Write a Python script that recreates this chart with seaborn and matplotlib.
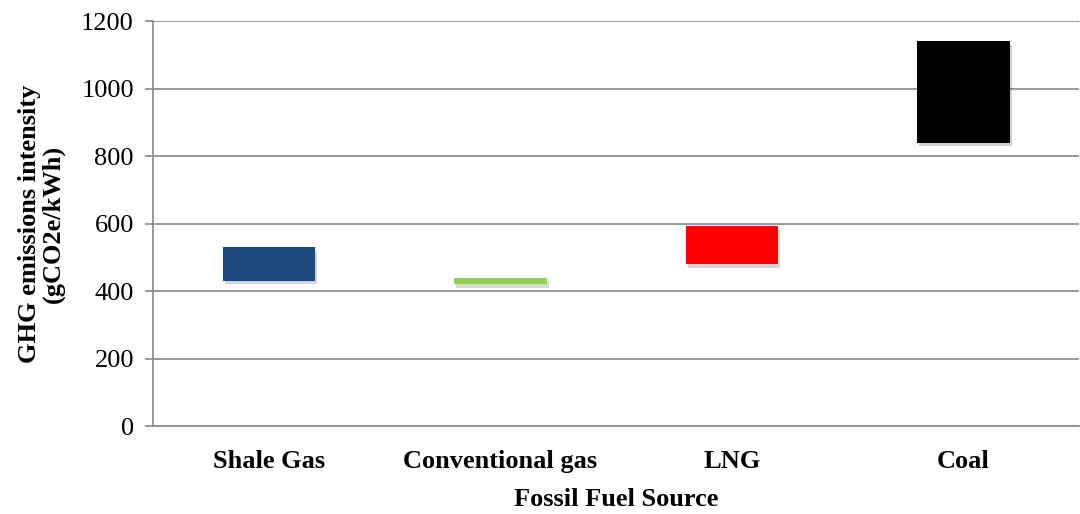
import matplotlib
matplotlib.use("Agg")
import matplotlib.pyplot as plt
import matplotlib.patheffects as pe
import pandas as pd
import seaborn as sns

# Range of GHG intensity per source (gCO2e/kWh)
sources = ["Shale Gas", "Conventional gas", "LNG", "Coal"]
low_vals = [430, 420, 480, 840]
high_vals = [530, 440, 592, 1140]
colors = ["#1F497D", "#92D050", "#FF0000", "#000000"]

df = pd.DataFrame({"Source": sources, "Low": low_vals, "High": high_vals})
df["Span"] = df["High"] - df["Low"]

sns.set_style("white")
plt.rcParams["font.family"] = ["Liberation Serif", "DejaVu Serif"]
plt.rcParams["text.color"] = "black"
plt.rcParams["axes.labelcolor"] = "black"
plt.rcParams["xtick.labelcolor"] = "black"
plt.rcParams["ytick.labelcolor"] = "black"

fig = plt.figure(figsize=(10.8, 5.14), dpi=100)
ax = fig.add_axes([0.142, 0.171, 0.857, 0.788])

sns.barplot(data=df, x="Source", y="Span", hue="Source", palette=colors,
            width=0.4, legend=False, ax=ax, saturation=1, zorder=3)

# float each bar from its low value
for patch, low in zip(ax.patches, df["Low"]):
    patch.set_y(low)
    patch.set_linewidth(0)
    patch.set_path_effects([pe.SimplePatchShadow(offset=(1.5, -2.5), alpha=0.18), pe.Normal()])

ax.set_ylim(0, 1200)
ax.set_xlim(-0.5, 3.5)
ax.set_yticks(range(0, 1201, 200))
ax.yaxis.grid(True, color="#888888", linewidth=1.2, zorder=0)
ax.set_axisbelow(True)

for side in ["top", "right"]:
    ax.spines[side].set_visible(False)
for side in ["left", "bottom"]:
    ax.spines[side].set_color("#888888")
    ax.spines[side].set_linewidth(1.2)

ax.set_xticks([-0.5, 0.5, 1.5, 2.5, 3.5], minor=True)
ax.tick_params(axis="x", which="major", length=0, pad=17, labelsize=19)
ax.tick_params(axis="x", which="minor", length=7, width=1.2, color="#888888", direction="out")
ax.tick_params(axis="y", length=6, width=1.2, color="#888888", direction="out", labelsize=19, pad=8)
ax.tick_params(left=True)
for lab in ax.get_xticklabels():
    lab.set_fontweight("bold")

ax.set_xlabel("Fossil Fuel Source", fontsize=19, fontweight="bold", labelpad=11)
ax.set_ylabel("GHG emissions intensity\n(gCO2e/kWh)", fontsize=19, fontweight="bold",
              labelpad=12, linespacing=1.0)

fig.savefig("out.png", dpi=100)
